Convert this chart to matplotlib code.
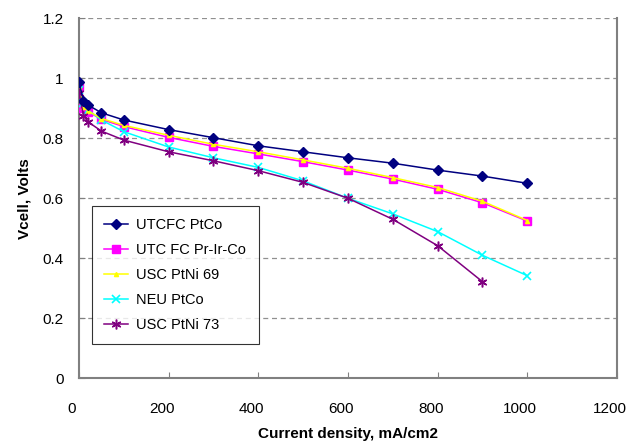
import matplotlib
matplotlib.use("Agg")
import matplotlib.pyplot as plt
import matplotlib.transforms as mtransforms

plt.rcParams['font.family'] = ['Liberation Sans', 'DejaVu Sans']

# current density, mA/cm2
current = [0, 10, 20, 50, 100, 200, 300, 400, 500, 600, 700, 800, 900, 1000]

# cell voltage, V
utcfc_ptco = [0.987, 0.925, 0.911, 0.885, 0.861, 0.829, 0.802, 0.775,
              0.755, 0.735, 0.717, 0.694, 0.674, 0.650]
utcfc_prirco = [0.970, 0.902, 0.889, 0.863, 0.839, 0.803, 0.773, 0.748,
                0.722, 0.694, 0.664, 0.630, 0.585, 0.524]
usc_ptni69 = [0.970, 0.905, 0.891, 0.866, 0.843, 0.810, 0.780, 0.755,
              0.728, 0.700, 0.669, 0.636, 0.590, 0.526]
neu_ptco = [0.960, 0.917, 0.894, 0.861, 0.822, 0.771, 0.735, 0.703,
            0.658, 0.600, 0.548, 0.489, 0.410, 0.342]
usc_ptni73 = [0.950, 0.876, 0.855, 0.824, 0.794, 0.755, 0.725, 0.692,
              0.653, 0.600, 0.530, 0.442, 0.322]

labels = ['UTCFC PtCo', 'UTC FC Pr-Ir-Co', 'USC PtNi 69', 'NEU PtCo', 'USC PtNi 73']

fig = plt.figure(figsize=(6.31, 4.42), dpi=100)
ax = fig.add_axes([0.1252, 0.1441, 0.8526, 0.8145])

ax.plot(current, utcfc_ptco, color='#000080', marker='D', markersize=5.5, lw=1.1, label=labels[0], zorder=5)
ax.plot(current, utcfc_prirco, color='#FF00FF', marker='s', markersize=6, lw=1.1, label=labels[1], zorder=3)
ax.plot(current, usc_ptni69, color='#FFFF00', marker='^', markersize=3, lw=1.1, label=labels[2], zorder=4)
ax.plot(current, neu_ptco, color='#00FFFF', marker='x', markersize=6, mew=1.2, lw=1.1, label=labels[3], zorder=3)
ax.plot(current[:len(usc_ptni73)], usc_ptni73, color='#800080', marker=(6, 2, 0), markersize=7, mew=1.1,
        lw=1.1, label=labels[4], zorder=4)

ax.set_xlim(0, 1200)
ax.set_ylim(0, 1.2)
ax.set_xticks(range(0, 1201, 200))
ax.set_yticks([0, 0.2, 0.4, 0.6, 0.8, 1.0, 1.2])
ax.set_yticklabels(['0', '0.2', '0.4', '0.6', '0.8', '1', '1.2'])
ax.tick_params(direction='in', length=4, labelsize=11, color='#808080')
ax.tick_params(axis='x', pad=17)
ax.tick_params(axis='y', pad=11)

# excel puts the x labels a little left of the ticks
shift = mtransforms.ScaledTranslation(-7 / 100, 0, fig.dpi_scale_trans)
for lab in ax.get_xticklabels():
    lab.set_transform(lab.get_transform() + shift)

ax.yaxis.grid(True, linestyle=(0, (4, 3)), color='#909090', lw=0.9)
ax.set_axisbelow(True)
for s in ['left', 'bottom', 'right']:
    ax.spines[s].set_color('#808080')
    ax.spines[s].set_linewidth(1.5)
ax.spines['top'].set_visible(False)

ax.set_xlabel('Current density, mA/cm2', fontsize=11, fontweight='bold', labelpad=8)
ax.set_ylabel('Vcell, Volts', fontsize=11, fontweight='bold', labelpad=8)

leg = ax.legend(loc='lower left', bbox_to_anchor=(0.024, 0.095), borderaxespad=0,
                fontsize=10.5, frameon=True, fancybox=False, handlelength=1.6,
                labelspacing=0.75, borderpad=0.85, handletextpad=0.6)
leg.get_frame().set_edgecolor('black')
leg.get_frame().set_linewidth(0.8)

fig.savefig('out.png', dpi=100)
